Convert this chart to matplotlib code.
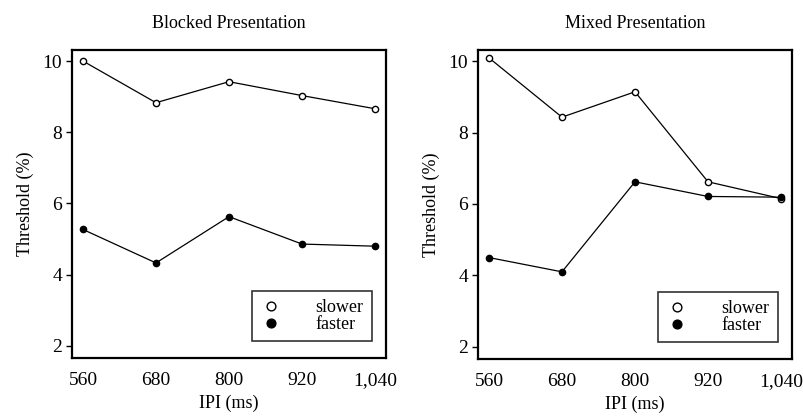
import matplotlib.pyplot as plt

plt.rcParams['font.family'] = ['Liberation Serif', 'DejaVu Serif']

ipi = [560, 680, 800, 920, 1040]
ipi_labels = ['560', '680', '800', '920', '1,040']

blocked_slower = [10.0, 8.83, 9.42, 9.03, 8.66]
blocked_faster = [5.27, 4.33, 5.63, 4.86, 4.80]
mixed_slower = [10.09, 8.43, 9.14, 6.62, 6.15]
mixed_faster = [4.50, 4.10, 6.62, 6.21, 6.19]

fig = plt.figure(figsize=(8.04, 4.18), dpi=100)
ax1 = fig.add_axes([72 / 804, 1 - 358 / 418, 314 / 804, 308 / 418])
ax2 = fig.add_axes([478 / 804, 1 - 359 / 418, 314 / 804, 309 / 418])


def draw(ax, slower, faster, title):
    ax.plot(ipi, slower, color='black', lw=0.9, marker='o', ms=4.5,
            mfc='white', mec='black', mew=1.0, label='slower')
    ax.plot(ipi, faster, color='black', lw=0.9, marker='o', ms=4.5,
            mfc='black', mec='black', label='faster')
    ax.set_xlim(542, 1058)
    ax.set_ylim(1.66, 10.31)
    ax.set_xticks(ipi)
    ax.set_xticklabels(ipi_labels)
    ax.set_yticks([2, 4, 6, 8, 10])
    ax.tick_params(axis='y', direction='out', length=4, width=1, labelsize=14, pad=3)
    ax.tick_params(axis='x', length=0, labelsize=14, pad=10)
    for s in ax.spines.values():
        s.set_linewidth(1.6)
    ax.set_title(title, fontsize=13, pad=16)
    ax.set_xlabel('IPI (ms)', fontsize=13, labelpad=4)
    ax.set_ylabel('Threshold (%)', fontsize=13, labelpad=6)
    leg = ax.legend(loc='lower right', bbox_to_anchor=(0.955, 0.055),
                    fontsize=13, frameon=True, fancybox=False, edgecolor='black',
                    handlelength=1.2, handletextpad=1.9, labelspacing=0.0,
                    borderpad=0.45, borderaxespad=0, markerscale=1.4)
    for h in leg.legend_handles:
        h.set_linestyle('none')
    leg.get_frame().set_linewidth(1.2)


draw(ax1, blocked_slower, blocked_faster, 'Blocked Presentation')
draw(ax2, mixed_slower, mixed_faster, 'Mixed Presentation')

fig.savefig('out.png', dpi=100)
